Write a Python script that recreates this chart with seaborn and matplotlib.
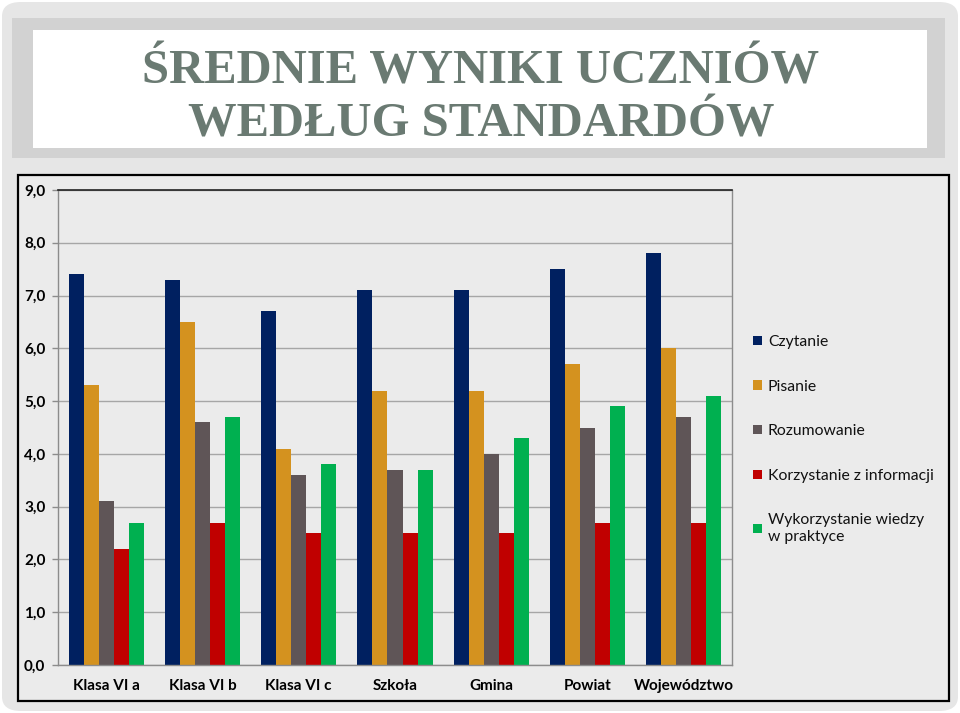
import numpy as np
import pandas as pd
import matplotlib
matplotlib.use("Agg")
import matplotlib.pyplot as plt
import seaborn as sns
from matplotlib.patches import Rectangle, FancyBboxPatch
from matplotlib.ticker import FuncFormatter, MultipleLocator

categories = ["Klasa VI a", "Klasa VI b", "Klasa VI c", "Szkoła", "Gmina", "Powiat", "Województwo"]
series = ["Czytanie", "Pisanie", "Rozumowanie", "Korzystanie z informacji", "Wykorzystanie wiedzy w praktyce"]
czytanie = [7.4, 7.3, 6.7, 7.1, 7.1, 7.5, 7.8]
pisanie = [5.3, 6.5, 4.1, 5.2, 5.2, 5.7, 6.0]
rozumowanie = [3.1, 4.6, 3.6, 3.7, 4.0, 4.5, 4.7]
korzystanie = [2.2, 2.7, 2.5, 2.5, 2.5, 2.7, 2.7]
wykorzystanie = [2.7, 4.7, 3.8, 3.7, 4.3, 4.9, 5.1]
legend_labels = ["Czytanie", "Pisanie", "Rozumowanie", "Korzystanie z informacji", "Wykorzystanie wiedzy\nw praktyce"]
colors = ["#002060", "#D4921F", "#5F5557", "#C00000", "#00B050"]
title = "ŚREDNIE WYNIKI UCZNIÓW\nWEDŁUG STANDARDÓW"

rows = []
for s, vals in zip(series, [czytanie, pisanie, rozumowanie, korzystanie, wykorzystanie]):
    for c, v in zip(categories, vals):
        rows.append({"kategoria": c, "seria": s, "wartosc": v})
df = pd.DataFrame(rows)

sns.set_theme(style="white")
plt.rcParams["font.family"] = ["Lato", "DejaVu Sans"]

W, H = 960, 713
fig = plt.figure(figsize=(9.6, 7.13), dpi=100, facecolor="white")

def fx(x):
    return x / W

def fy(y):
    return 1 - y / H

# rounded background
fig.patches.append(FancyBboxPatch((fx(2), fy(711)), fx(956), (709) / H,
                                  boxstyle="round,pad=0,rounding_size=0.02",
                                  transform=fig.transFigure, facecolor="#e6e6e6",
                                  edgecolor="none", zorder=0))
# title band
fig.patches.append(Rectangle((fx(12), fy(158)), fx(933), 140 / H, transform=fig.transFigure,
                             facecolor="#d2d2d2", edgecolor="none", zorder=1))
fig.patches.append(Rectangle((fx(33), fy(148)), fx(894), 118 / H, transform=fig.transFigure,
                             facecolor="white", edgecolor="none", zorder=2))
fig.text(fx(481), fy(98), title, ha="center", va="center", fontsize=35, fontweight="bold",
         family=["Liberation Serif", "DejaVu Serif"], color="#6a7a72", linespacing=1.27,
         zorder=3)
# chart area frame
fig.patches.append(Rectangle((fx(18), fy(701)), fx(931), 526 / H, transform=fig.transFigure,
                             facecolor="#ebebeb", edgecolor="black", linewidth=1.6, zorder=1))

ax = fig.add_axes([fx(58), fy(665), fx(674), 475 / H])
ax.set_facecolor("#ebebeb")
ax.set_zorder(3)
sns.barplot(data=df, x="kategoria", y="wartosc", hue="seria", order=categories,
            hue_order=series, palette=colors, width=0.78, saturation=1, ax=ax,
            legend=True, errorbar=None)
for p in ax.patches:
    p.set_edgecolor("none")

ax.set_ylim(0, 9)
ax.set_xlim(-0.5, len(categories) - 0.5)
ax.yaxis.set_major_locator(MultipleLocator(1))
ax.yaxis.set_major_formatter(FuncFormatter(lambda v, p: f"{v:.1f}".replace(".", ",")))
ax.grid(axis="y", color="#a6a6a6", linewidth=1.0)
ax.set_axisbelow(True)
ax.set_xlabel("")
ax.set_ylabel("")
for side in ["left", "right", "bottom"]:
    ax.spines[side].set_color("#8c8c8c")
    ax.spines[side].set_linewidth(1.0)
ax.spines["top"].set_color("#222222")
ax.spines["top"].set_linewidth(1.2)
ax.set_xticks(np.arange(len(categories) + 1) - 0.5, minor=True)
ax.tick_params(axis="x", which="minor", length=5, color="#8c8c8c", width=1, direction="out")
ax.tick_params(axis="x", which="major", length=0, pad=10, labelsize=11)
ax.tick_params(axis="y", length=4, color="#8c8c8c", width=1, pad=5, labelsize=11, direction="out")
ax.tick_params(axis="y", which="major", left=True)
for lab in ax.get_xticklabels() + ax.get_yticklabels():
    lab.set_fontweight("bold")
    lab.set_color("black")

handles, _ = ax.get_legend_handles_labels()
ax.legend(handles, legend_labels, loc="upper left", bbox_to_anchor=(fx(753), fy(335)),
          bbox_transform=fig.transFigure, frameon=False, fontsize=11.3,
          handlelength=0.55, handleheight=0.55, handletextpad=0.4, labelspacing=1.95,
          borderpad=0, borderaxespad=0, labelcolor="#111111")

fig.savefig("out.png", dpi=100, facecolor=fig.get_facecolor())
